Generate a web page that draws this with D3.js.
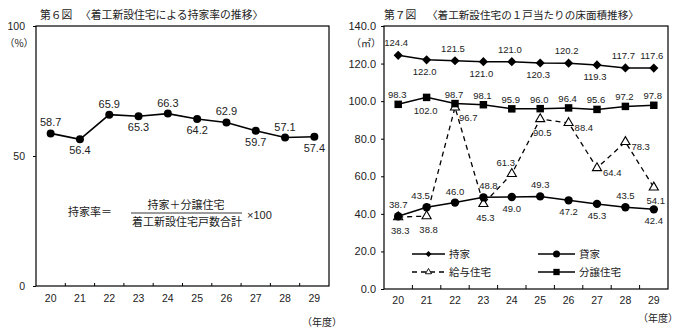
<!DOCTYPE html>
<html><head><meta charset="utf-8">
<script src="https://cdn.jsdelivr.net/npm/d3@7"></script>
<style>
html,body{margin:0;padding:0;background:#fff;}
svg{display:block;}
</style></head>
<body>
<svg id="c" width="687" height="334"></svg>
<script>
// ---------- data ----------
const years = ["20","21","22","23","24","25","26","27","28","29"];
const ownRate = [58.7, 56.4, 65.9, 65.3, 66.3, 64.2, 62.9, 59.7, 57.1, 57.4];
const ownFloor = [124.4, 122.0, 121.5, 121.0, 121.0, 120.3, 120.2, 119.3, 117.7, 117.6];   // 持家
const rentFloor = [38.7, 43.5, 46.0, 48.8, 49.0, 49.3, 47.2, 45.3, 43.5, 42.4];            // 貸家
const employeeFloor = [38.3, 38.8, 96.7, 45.3, 61.3, 90.5, 88.4, 64.4, 78.3, 54.1];        // 給与住宅
const condoFloor = [98.3, 102.0, 98.7, 98.1, 95.9, 96.0, 96.4, 95.6, 97.2, 97.8];          // 分譲住宅
const leftTicks = [0, 50, 100];
const rightTicks = [0, 20, 40, 60, 80, 100, 120, 140];
const seriesNames = ["持家", "貸家", "給与住宅", "分譲住宅"];

// label placement codes (a=above, b=below, r=right, al/ar=above left/right, br=below right)
const ownRatePlace = ["a","b","a","b","a","b","a","b","a","b"];
const ownFloorPlace = ["a","b","a","b","a","b","a","b","a","a"];
const rentFloorPlace = ["a","al","a","ar","b","a","b","b","a","b"];
const employeePlace = ["b","b","br","b","al","b","r","r","r","b"];
const condoPlace = ["a","b","a","a","a","a","a","a","a","a"];

const svg = d3.select("#c");
const JP = "'Noto Sans CJK JP','Noto Sans',sans-serif";
const NUM = "'Liberation Sans',Arial,sans-serif";

function fmt1(v){ return v.toFixed(1); }

function drawLabels(g, x, y, vals, places, opt){
  g.selectAll(null).data(vals).join("text")
    .attr("x", (d,i) => {
      const p = places[i]; let dx = opt.dx || 0;
      if (p === "r") dx = opt.rDx; else if (p === "br") dx = opt.brDx;
      else if (p === "al") dx = -6; else if (p === "ar") dx = 5;
      return x(years[i]) + dx;
    })
    .attr("y", (d,i) => {
      const p = places[i];
      let dy = (p === "a" || p === "al" || p === "ar") ? opt.aDy : (p === "b" ? opt.bDy : (p === "r" ? opt.rDy : opt.brDy));
      return y(d) + dy;
    })
    .attr("text-anchor", (d,i) => (places[i] === "r" || places[i] === "br") ? "start" : "middle")
    .attr("font-family", NUM).attr("font-size", opt.size).attr("fill", "#222")
    .text(d => opt.f(d));
}

// ================= Left chart =================
{
  const L = 36, R = 329, T = 26, B = 286;
  const x = d3.scaleBand().domain(years).range([L, R]).paddingInner(0).paddingOuter(0);
  const xc = d => x(d) + x.bandwidth() / 2;
  const y = d3.scaleLinear().domain([0, 100]).range([B, T]);
  const g = svg.append("g");

  g.append("rect").attr("x", L).attr("y", T).attr("width", R - L).attr("height", B - T)
    .attr("fill", "none").attr("stroke", "#000").attr("stroke-width", 1.2);

  const ya = g.append("g").attr("transform", `translate(${L},0)`)
    .call(d3.axisLeft(y).tickValues(leftTicks).tickSize(3).tickPadding(8).tickFormat(d3.format("d")));
  ya.select(".domain").remove();
  ya.selectAll("text").attr("font-family", NUM).attr("font-size", 10.5).attr("fill", "#222");
  ya.selectAll("line").attr("stroke", "#000");
  g.append("text").attr("x", 19).attr("y", 47).attr("text-anchor", "middle")
    .attr("font-family", JP).attr("font-size", 10).attr("fill", "#222").text("（%）");

  const xa = g.append("g").attr("transform", `translate(0,${B})`)
    .call(d3.axisBottom(x).tickSize(0).tickPadding(9));
  xa.select(".domain").remove();
  xa.selectAll("text").attr("font-family", NUM).attr("font-size", 10.5).attr("fill", "#222");
  g.selectAll(null).data(years.slice(1)).join("line")
    .attr("x1", d => x(d)).attr("x2", d => x(d)).attr("y1", B).attr("y2", B - 3)
    .attr("stroke", "#000");
  g.append("text").attr("x", 322).attr("y", 326).attr("text-anchor", "middle")
    .attr("font-family", JP).attr("font-size", 10).attr("fill", "#222").text("（年度）");

  const line = d3.line().x((d,i) => xc(years[i])).y(d => y(d));
  g.append("path").attr("d", line(ownRate)).attr("fill", "none").attr("stroke", "#000").attr("stroke-width", 1.6);
  g.selectAll(null).data(ownRate).join("circle")
    .attr("cx", (d,i) => xc(years[i])).attr("cy", d => y(d)).attr("r", 4).attr("fill", "#000");
  drawLabels(g, xc, y, ownRate, ownRatePlace, {aDy: -7, bDy: 15, size: 11, f: fmt1});

  g.append("text").attr("x", 40).attr("y", 19).attr("font-family", JP).attr("font-size", 10.8).attr("fill", "#222").text("第６図");
  g.append("text").attr("x", 80).attr("y", 19).attr("font-family", JP).attr("font-size", 10.8).attr("fill", "#222").text("〈着工新設住宅による持家率の推移〉");

  // formula
  g.append("text").attr("x", 68).attr("y", 216).attr("font-family", JP).attr("font-size", 11).attr("fill", "#222").text("持家率＝");
  g.append("text").attr("x", 186).attr("y", 209).attr("text-anchor", "middle").attr("font-family", JP).attr("font-size", 11).attr("fill", "#222").text("持家＋分譲住宅");
  g.append("line").attr("x1", 131).attr("x2", 242).attr("y1", 213).attr("y2", 213).attr("stroke", "#222").attr("stroke-width", 0.9);
  g.append("text").attr("x", 187).attr("y", 226).attr("text-anchor", "middle").attr("font-family", JP).attr("font-size", 11).attr("fill", "#222").text("着工新設住宅戸数合計");
  g.append("text").attr("x", 247).attr("y", 219).attr("font-family", NUM).attr("font-size", 11).attr("fill", "#222").text("×100");
}

// ================= Right chart =================
{
  const L = 384, R = 668, T = 26, B = 289;
  const x = d3.scaleBand().domain(years).range([L, R]).paddingInner(0).paddingOuter(0);
  const xc = d => x(d) + x.bandwidth() / 2;
  const y = d3.scaleLinear().domain([0, 140]).range([B, T]);
  const g = svg.append("g");

  g.append("rect").attr("x", L).attr("y", T).attr("width", R - L).attr("height", B - T)
    .attr("fill", "none").attr("stroke", "#000").attr("stroke-width", 1.2);

  const ya = g.append("g").attr("transform", `translate(${L},0)`)
    .call(d3.axisLeft(y).tickValues(rightTicks).tickSize(3).tickPadding(5).tickFormat(d3.format(".1f")));
  ya.select(".domain").remove();
  ya.selectAll("text").attr("font-family", NUM).attr("font-size", 11).attr("fill", "#222");
  ya.selectAll("line").attr("stroke", "#000");
  g.append("text").attr("x", 366).attr("y", 47).attr("text-anchor", "middle")
    .attr("font-family", JP).attr("font-size", 10).attr("fill", "#222").text("（㎡）");

  const xa = g.append("g").attr("transform", `translate(0,${B})`)
    .call(d3.axisBottom(x).tickSize(0).tickPadding(8));
  xa.select(".domain").remove();
  xa.selectAll("text").attr("font-family", NUM).attr("font-size", 10.5).attr("fill", "#222");
  g.selectAll(null).data(years.slice(1)).join("line")
    .attr("x1", d => x(d)).attr("x2", d => x(d)).attr("y1", B).attr("y2", B - 4)
    .attr("stroke", "#000");
  g.append("text").attr("x", 658).attr("y", 322).attr("text-anchor", "middle")
    .attr("font-family", JP).attr("font-size", 10).attr("fill", "#222").text("（年度）");

  const line = d3.line().x((d,i) => xc(years[i])).y(d => y(d));

  g.append("path").attr("d", line(employeeFloor)).attr("fill", "none").attr("stroke", "#000")
    .attr("stroke-width", 1.3).attr("stroke-dasharray", "5,4");
  [ownFloor, rentFloor, condoFloor].forEach(s => {
    g.append("path").attr("d", line(s)).attr("fill", "none").attr("stroke", "#000").attr("stroke-width", 1.5);
  });

  const diamond = d3.symbol().type(d3.symbolSquare).size(42);
  const square = d3.symbol().type(d3.symbolSquare).size(56);
  const tri = d3.symbol().type(d3.symbolTriangle).size(36);

  g.selectAll(null).data(employeeFloor).join("path")
    .attr("d", tri).attr("transform", (d,i) => `translate(${xc(years[i])},${y(d)})`)
    .attr("fill", "#fff").attr("stroke", "#000").attr("stroke-width", 1.1);
  g.selectAll(null).data(ownFloor).join("path")
    .attr("d", diamond).attr("transform", (d,i) => `translate(${xc(years[i])},${y(d)}) rotate(45)`)
    .attr("fill", "#000");
  g.selectAll(null).data(rentFloor).join("circle")
    .attr("cx", (d,i) => xc(years[i])).attr("cy", d => y(d)).attr("r", 4.2).attr("fill", "#000");
  g.selectAll(null).data(condoFloor).join("path")
    .attr("d", square).attr("transform", (d,i) => `translate(${xc(years[i])},${y(d)})`)
    .attr("fill", "#000");

  drawLabels(g, xc, y, ownFloor, ownFloorPlace, {dx: -2, aDy: -9, bDy: 15, size: 9.5, f: fmt1});
  drawLabels(g, xc, y, condoFloor, condoPlace, {dx: -1, aDy: -6, bDy: 17, size: 9.5, f: fmt1});
  drawLabels(g, xc, y, rentFloor, rentFloorPlace, {dx: 0, aDy: -8, bDy: 15, size: 9.5, f: fmt1});
  drawLabels(g, xc, y, employeeFloor, employeePlace, {dx: 2, aDy: -8, bDy: 17, rDx: 6, rDy: 8, brDx: 4, brDy: 14, size: 9.5, f: fmt1});

  const legend = [
    {name: seriesNames[0], x: 412, y: 254, m: "diamond", dash: null},
    {name: seriesNames[1], x: 538, y: 254, m: "circle", dash: null},
    {name: seriesNames[2], x: 412, y: 272, m: "tri", dash: "5,4"},
    {name: seriesNames[3], x: 538, y: 272, m: "square", dash: null}
  ];
  legend.forEach(it => {
    const w = it.x < 500 ? 33 : 37;
    const lg = g.append("g");
    lg.append("line").attr("x1", it.x).attr("x2", it.x + w).attr("y1", it.y).attr("y2", it.y)
      .attr("stroke", "#000").attr("stroke-width", 1.3).attr("stroke-dasharray", it.dash);
    const cx = it.x + w / 2;
    if (it.m === "diamond") lg.append("path").attr("d", d3.symbol().type(d3.symbolSquare).size(18)()).attr("transform", `translate(${cx},${it.y}) rotate(45)`).attr("fill", "#000");
    if (it.m === "circle") lg.append("circle").attr("cx", cx).attr("cy", it.y).attr("r", 3.5).attr("fill", "#000");
    if (it.m === "square") lg.append("path").attr("d", d3.symbol().type(d3.symbolSquare).size(40)()).attr("transform", `translate(${cx},${it.y})`).attr("fill", "#000");
    if (it.m === "tri") lg.append("path").attr("d", d3.symbol().type(d3.symbolTriangle).size(16)()).attr("transform", `translate(${cx},${it.y})`).attr("fill", "#fff").attr("stroke", "#000").attr("stroke-width", 0.9);
    lg.append("text").attr("x", it.x + w + 4).attr("y", it.y + 4).attr("font-family", JP).attr("font-size", 10.5).attr("fill", "#222").text(it.name);
  });

  g.append("text").attr("x", 384).attr("y", 19).attr("font-family", JP).attr("font-size", 10.8).attr("fill", "#222").text("第７図");
  g.append("text").attr("x", 427).attr("y", 19).attr("font-family", JP).attr("font-size", 10.6).attr("fill", "#222").text("〈着工新設住宅の１戸当たりの床面積推移〉");
}
</script>
</body></html>
